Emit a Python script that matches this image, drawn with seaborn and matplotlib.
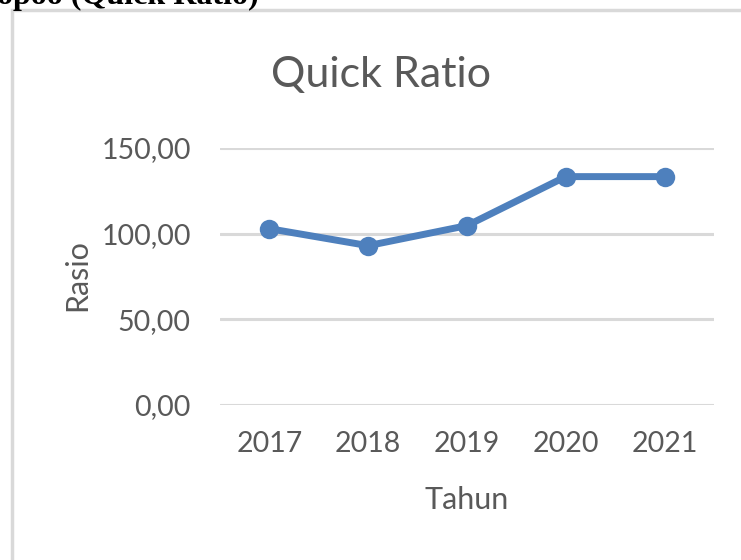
import numpy as np
import matplotlib
matplotlib.use("Agg")
import matplotlib.pyplot as plt
import seaborn as sns
import pandas as pd
from matplotlib.patches import Rectangle

# data
tahun = ["2017", "2018", "2019", "2020", "2021"]
rasio = [102.9, 93.0, 104.7, 133.3, 133.3]
yticks = [0, 50, 100, 150]

df = pd.DataFrame({"Tahun": tahun, "Rasio": rasio})

sns.set_style("white")
plt.rcParams['font.family'] = ['Lato', 'DejaVu Sans']

fig = plt.figure(figsize=(7.41, 5.6), dpi=100)
ax = fig.add_axes([220/741, 1-405/560, 494/741, (405-148)/560])

garis = "#4e80bd"
abu = "#595959"

sns.lineplot(data=df, x="Tahun", y="Rasio", ax=ax, color=garis, linewidth=5,
             marker="o", markersize=14, markeredgewidth=0, sort=False)

ax.set_xlim(-0.5, 4.5)
ax.set_ylim(0, 150)
ax.set_yticks(yticks)
ax.set_yticklabels([f"{v:.2f}".replace(".", ",") for v in yticks])
ax.yaxis.grid(True, color="#d9d9d9", linewidth=2.2)
ax.set_axisbelow(True)
for s in ax.spines.values():
    s.set_visible(False)
ax.tick_params(axis="both", length=0, labelsize=20.5, labelcolor=abu)
ax.tick_params(axis="y", pad=21)
ax.tick_params(axis="x", pad=19)

ax.set_xlabel("Tahun", fontsize=22, color=abu)
ax.set_ylabel("Rasio", fontsize=22, color=abu)
ax.yaxis.set_label_coords(-(220-91)/494, (405-275)/(405-148))
ax.xaxis.set_label_coords(0.5, -(486-405)/(405-148))

fig.text(381/741, 1-75/560, "Quick Ratio", fontsize=31, color=abu,
         ha="center", va="center")

# frame of the chart box
fig.patches.append(Rectangle((12/741, -0.1), 1.0, 1-9.5/560+0.1,
                             transform=fig.transFigure, fill=False,
                             edgecolor="#d9d9d9", linewidth=2.5))

# clipped caption from the page above
fig.text(-3/741, 1-4/560, "opoo (Quick Ratio)", fontsize=23, fontweight="bold",
         family="Liberation Serif", color="black", ha="left", va="baseline")

fig.savefig("out.png", dpi=100)
